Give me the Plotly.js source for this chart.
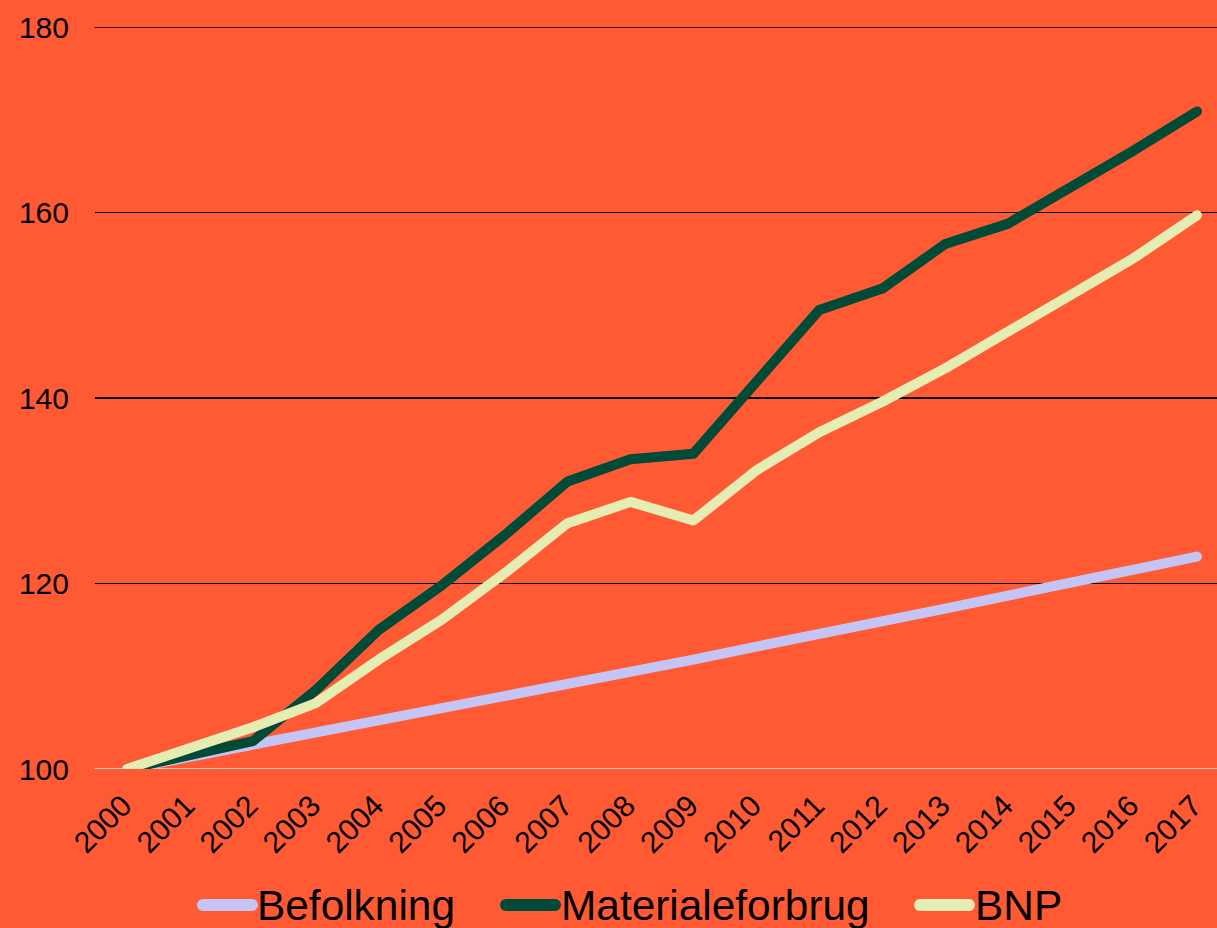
<!DOCTYPE html>
<html>
<head>
<meta charset="utf-8">
<script src="https://cdn.plot.ly/plotly-3.0.1.min.js"></script>
<style>
html,body{margin:0;padding:0;background:#FF5A33;}
#chart{width:1217px;height:928px;}
.scatterlayer path.js-line{stroke-linecap:round;stroke-linejoin:round;}
.shapelayer path{stroke-linecap:round;}
</style>
</head>
<body>
<div id="chart"></div>
<script>
const years = ["2000","2001","2002","2003","2004","2005","2006","2007","2008","2009","2010","2011","2012","2013","2014","2015","2016","2017"];
const befolkning = [100,101.3,102.6,103.8,105.1,106.4,107.7,109.1,110.4,111.8,113.2,114.5,115.9,117.3,118.7,120.1,121.5,122.9];
const materialeforbrug = [100,101.5,103.0,108.5,115.0,119.8,125.2,131.0,133.4,134.0,141.9,149.5,151.8,156.6,158.8,162.6,166.7,170.9];
const bnp = [100,102.2,104.5,107.1,111.8,116.1,121.1,126.5,128.8,126.8,132.2,136.3,139.6,143.2,147.1,151.3,155.1,159.7];
const seriesNames = ["Befolkning","Materialeforbrug","BNP"];
const seriesColors = ["#C5C5F5","#004B37","#E6EDB3"];
const yTicks = [100,120,140,160,180];

const W = 1217, H = 928;
const mL = 95, mR = 0, mT = 27, mB = 159;
const pw = W - mL - mR, ph = H - mT - mB;
const px2x = p => (p - mL) / pw;
const py2y = p => (H - mB - p) / ph;

const data = [befolkning, materialeforbrug, bnp].map((vals, i) => ({
  type: "scatter", mode: "lines", x: years, y: vals, name: seriesNames[i],
  line: {color: seriesColors[i], width: 10}, showlegend: false, hoverinfo: "skip"
}));

// manual legend
const legendItems = [
  {sx0: 203, sx1: 252, tx: 255},
  {sx0: 506, sx1: 555, tx: 559},
  {sx0: 920, sx1: 969, tx: 973}
];
const shapes = [];
const annotations = [];
legendItems.forEach((it, i) => {
  shapes.push({type: "line", xref: "paper", yref: "paper",
    x0: px2x(it.sx0), x1: px2x(it.sx1), y0: py2y(905), y1: py2y(905),
    line: {color: seriesColors[i], width: 12}});
  annotations.push({xref: "paper", yref: "paper", x: px2x(it.tx), y: py2y(905),
    xanchor: "left", yanchor: "middle", showarrow: false, text: seriesNames[i],
    font: {family: "Liberation Sans, Arial, sans-serif", size: 42.4, color: "#000"}});
});
// white baseline at 100 and top gridline at 180
shapes.push({type: "line", xref: "paper", yref: "y", x0: 0, x1: 1, y0: 100, y1: 100,
  line: {color: "#E6E6E6", width: 1.5}, layer: "below"});
shapes.push({type: "line", xref: "paper", yref: "y", x0: 0, x1: 1, y0: 180, y1: 180,
  line: {color: "#000", width: 1.3}, layer: "below"});

const layout = {
  width: W, height: H,
  margin: {l: mL, r: mR, t: mT, b: mB, pad: 0},
  paper_bgcolor: "#FF5A33", plot_bgcolor: "#FF5A33",
  font: {family: "Liberation Sans, Arial, sans-serif", color: "#000"},
  showlegend: false,
  xaxis: {
    type: "category", range: [-(127 - mL) / 62.94, (W - mR - 127) / 62.94],
    showgrid: false, zeroline: false, showline: false,
    tickangle: -45, ticks: "outside", ticklen: 6, tickcolor: "rgba(0,0,0,0)",
    ticklabelshift: -4,
    tickfont: {size: 30, color: "#000"}, fixedrange: true
  },
  yaxis: {
    range: [100, 180], tickvals: yTicks, ticktext: yTicks.map(String),
    showgrid: true, gridcolor: "#000", gridwidth: 1.3, zeroline: false, showline: false,
    ticks: "outside", ticklen: 19, tickcolor: "rgba(0,0,0,0)",
    tickfont: {size: 30, color: "#000"}, fixedrange: true
  },
  shapes: shapes, annotations: annotations
};

Plotly.newPlot("chart", data, layout, {displayModeBar: false, staticPlot: true});
</script>
</body>
</html>
